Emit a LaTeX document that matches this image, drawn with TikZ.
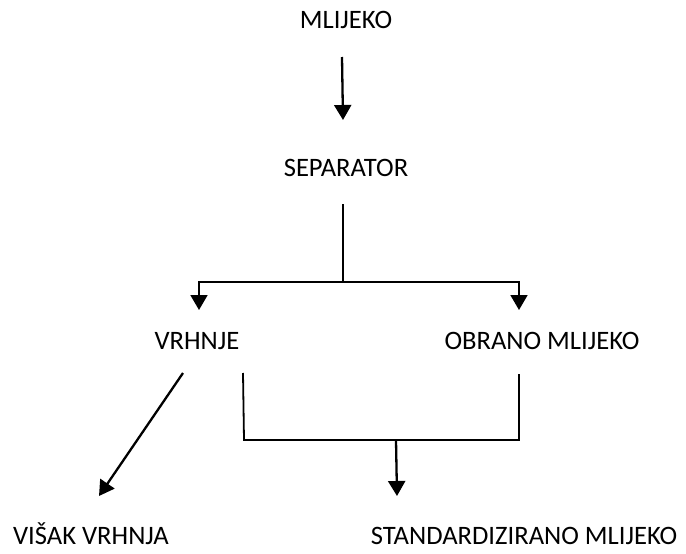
\documentclass[tikz,border=0pt]{standalone}
\usepackage{fontspec}
\setmainfont{Carlito}
\usetikzlibrary{arrows.meta}

\begin{document}
\begin{tikzpicture}[x=1pt,y=-1pt,every node/.style={inner sep=0,outer sep=0,anchor=base,font=\fontsize{26.6}{30}\selectfont},
	line/.style={line width=1.8pt},
	arr/.style={line width=2.3pt,-{Triangle[width=17pt,length=15pt]}}]
	\useasboundingbox (0,0) rectangle (686,554);
	\node (mlijeko) at (346,28) {MLIJEKO};
	\node (separator) at (346,176) {SEPARATOR};
	\node (vrhnje) at (197,349) {VRHNJE};
	\node (obrano) at (542,349) {OBRANO MLIJEKO};
	\node (visak) at (91,544) {VIŠAK VRHNJA};
	\node (standard) at (524,544) {STANDARDIZIRANO MLIJEKO};
	% free ends of the connectors
	\coordinate (m1) at (342,57);
	\coordinate (m2) at (343,120);
	\coordinate (s1) at (343,204);
	\coordinate (s2) at (343,282);
	\coordinate (v1) at (199,310);
	\coordinate (o1) at (519,310);
	\coordinate (v2) at (183,373);
	\coordinate (v3) at (99,496);
	\coordinate (b1) at (243,373);
	\coordinate (b2) at (244,440);
	\coordinate (b3) at (519,440);
	\coordinate (b4) at (519,374);
	\coordinate (c1) at (396,440);
	\coordinate (c2) at (397,496);
	\draw[arr] (m1) -- (m2);
	\draw[line] (s1) -- (s2);
	\draw[arr,line] (s2) -| (v1);
	\draw[arr,line] (s2) -| (o1);
	\draw[arr] (v2) -- (v3);
	\draw[line] (b1) -- (b2) -- (b3) -- (b4);
	\draw[arr] (c1) -- (c2);
\end{tikzpicture}
\end{document}
